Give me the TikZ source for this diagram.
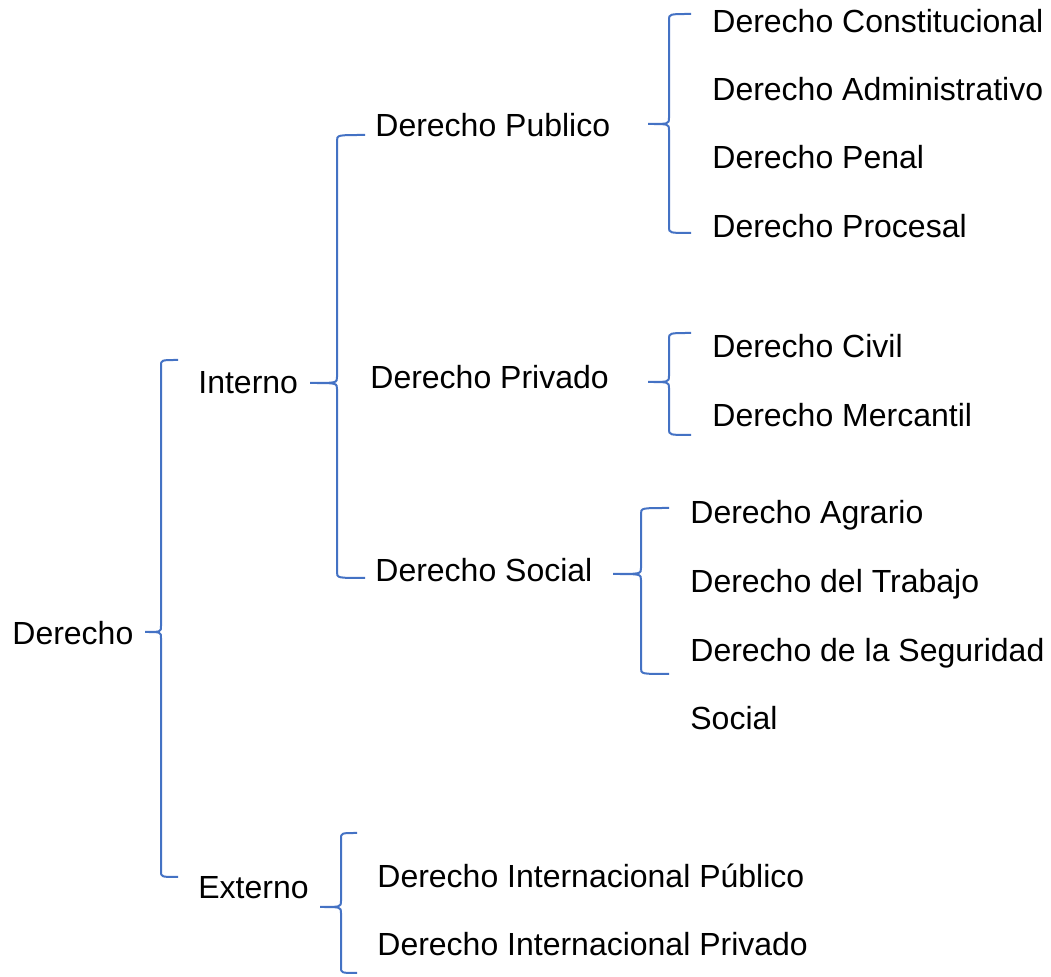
\documentclass[tikz,border=0pt]{standalone}
\usepackage{fontspec}
\setmainfont{Liberation Sans}
\definecolor{llaveazul}{RGB}{68,114,196}
\tikzset{
  rama/.style={anchor=base west,inner sep=0pt,font=\fontsize{16}{19}\selectfont},
  llave/.style={color=llaveazul,line width=1pt}
}
% tip x, vertical x, end x, top y, tip y, bottom y
\newcommand{\llave}[6]{%
\draw[llave] (#3,#4) .. controls (#2,#4) .. (#2,#4+6) -- (#2,#5-6) .. controls (#2,#5) .. (#1,#5)
  .. controls (#2,#5) .. (#2,#5+6) -- (#2,#6-6) .. controls (#2,#6) .. (#3,#6);}
\begin{document}
\begin{tikzpicture}[x=0.5pt,y=-0.5pt]
\useasboundingbox (0,0) rectangle (1051,977);

\node[rama] (der) at (12,645) {Derecho};
\node[rama] (int) at (198,394) {Interno};
\node[rama] (ext) at (198,899) {Externo};

\node[rama] (pub) at (375,137) {Derecho Publico};
\node[rama] (pri) at (370,389) {Derecho Privado};
\node[rama] (soc) at (375,582) {Derecho Social};

\node[rama] (cons) at (712,33) {Derecho Constitucional};
\node[rama] (adm) at (712,101) {Derecho Administrativo};
\node[rama] (pen) at (712,169) {Derecho Penal};
\node[rama] (proc) at (712,238) {Derecho Procesal};

\node[rama] (civ) at (712,358) {Derecho Civil};
\node[rama] (mer) at (712,427) {Derecho Mercantil};

\node[rama] (agr) at (690,524) {Derecho Agrario};
\node[rama] (tra) at (690,593) {Derecho del Trabajo};
\node[rama] (seg) at (690,662) {Derecho de la Seguridad};
\node[rama] (segb) at (690,730) {Social};

\node[rama] (ipu) at (377,888) {Derecho Internacional Público};
\node[rama] (ipr) at (377,956) {Derecho Internacional Privado};

\llave{145}{161}{178}{360}{632}{877}
\llave{310}{337}{365}{135}{383}{578}
\llave{648}{669}{691}{14}{124}{233}
\llave{648}{669}{691}{333}{382}{435}
\llave{613}{641}{669}{508}{574}{674}
\llave{320}{341}{357}{833}{907}{973}

\end{tikzpicture}
\end{document}
